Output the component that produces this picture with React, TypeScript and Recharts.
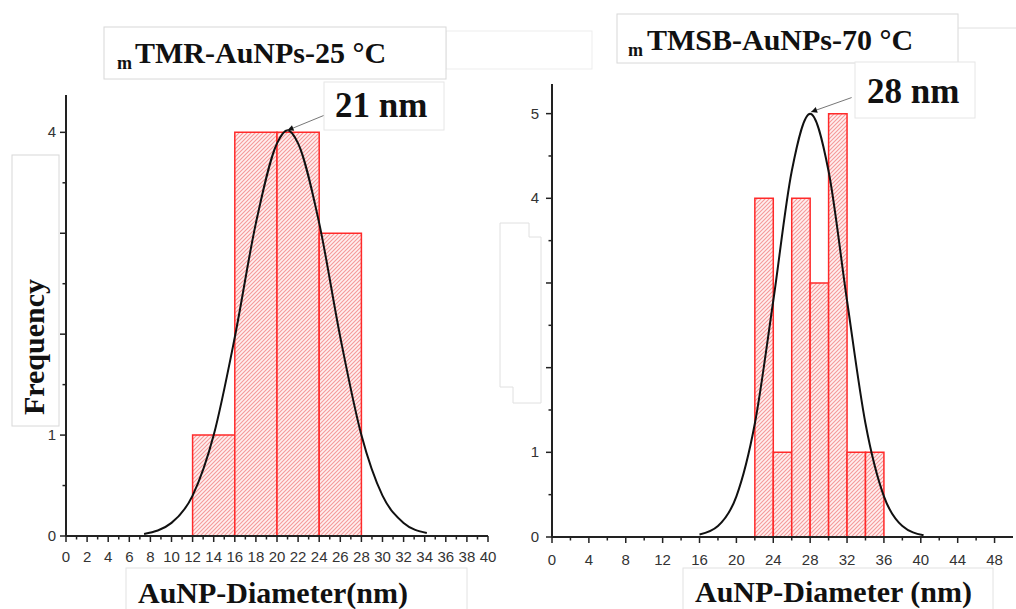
import React from 'react'
import { ComposedChart, Line, XAxis, YAxis, ReferenceArea, ReferenceLine } from 'recharts'

// histogram of mTMR-AuNPs-25 °C
const tmrBinStart = [12, 16, 20, 24]
const tmrBinEnd = [16, 20, 24, 28]
const tmrCounts = [1, 4, 4, 3]
// fitted curve
const tmrFitX = [7.4, 10, 12, 14, 16, 18, 20, 21, 22, 24, 26, 28, 30, 32, 34.2]
const tmrFitY = [0.02, 0.13, 0.4, 1.0, 1.97, 3.1, 3.89, 4.02, 3.89, 3.1, 1.97, 1.0, 0.4, 0.13, 0.03]
const tmrXTicks = [0, 1, 2, 3, 4, 5, 6, 7, 8, 9, 10, 11, 12, 13, 14, 15, 16, 17, 18, 19, 20,
  21, 22, 23, 24, 25, 26, 27, 28, 29, 30, 31, 32, 33, 34, 35, 36, 37, 38, 39, 40]
const tmrXLabels = [0, 2, 4, 6, 8, 10, 12, 14, 16, 18, 20, 22, 24, 26, 28, 30, 32, 34, 36, 38, 40]
const tmrYTicks = [0, 0.5, 1, 1.5, 2, 2.5, 3, 3.5, 4]
const tmrYLabels = [0, 1, 4]

// histogram of mTMSB-AuNPs-70 °C
const tmsbBinStart = [22, 24, 26, 28, 30, 32, 34]
const tmsbBinEnd = [24, 26, 28, 30, 32, 34, 36]
const tmsbCounts = [4, 1, 4, 3, 5, 1, 1]
const tmsbFitX = [16, 18, 20, 22, 24, 26, 28, 30, 32, 34, 36, 38, 40.3]
const tmsbFitY = [0.03, 0.13, 0.48, 1.34, 2.79, 4.32, 5.0, 4.32, 2.79, 1.34, 0.48, 0.13, 0.02]
const tmsbXTicks = [0, 2, 4, 6, 8, 10, 12, 14, 16, 18, 20, 22, 24, 26, 28, 30, 32, 34, 36, 38,
  40, 42, 44, 46, 48]
const tmsbXLabels = [0, 4, 8, 12, 16, 20, 24, 28, 32, 36, 40, 44, 48]
const tmsbYTicks = [0, 0.5, 1, 1.5, 2, 2.5, 3, 3.5, 4, 4.5, 5]
const tmsbYLabels = [0, 1, 4, 5]

const tmrFit = tmrFitX.map((x, i) => ({ x, y: tmrFitY[i] }))
const tmsbFit = tmsbFitX.map((x, i) => ({ x, y: tmsbFitY[i] }))

const tickFont = "'Liberation Sans Narrow', 'Liberation Sans', Arial, sans-serif"
const serif = "'Liberation Serif', 'Times New Roman', serif"
const axisStyle = { stroke: '#222', strokeWidth: 2 }

const makeXTick = (labels: number[], gap: number) => (props: any) => {
  const { x, y, payload } = props
  const major = labels.includes(payload.value)
  return (
    <g>
      <line x1={x} x2={x} y1={y} y2={y + (major ? 6 : 3.5)} stroke="#222" strokeWidth={1.5} />
      {major && (
        <text x={x} y={y + gap} textAnchor="middle" fontSize={15} fill="#333" fontFamily={tickFont}>
          {payload.value}
        </text>
      )}
    </g>
  )
}

const makeYTick = (labels: number[], gap: number) => (props: any) => {
  const { x, y, payload } = props
  const major = Number.isInteger(payload.value)
  return (
    <g>
      <line x1={x} x2={x - (major ? 6 : 3.5)} y1={y} y2={y} stroke="#222" strokeWidth={1.5} />
      {labels.includes(payload.value) && (
        <text x={x - gap} y={y + 5} textAnchor="end" fontSize={15} fill="#333" fontFamily={tickFont}>
          {payload.value}
        </text>
      )}
    </g>
  )
}

const arrowShape = (p: any) => (
  <line x1={p.x1} y1={p.y1} x2={p.x2} y2={p.y2} stroke="#777" strokeWidth={1} markerStart="url(#arrowHead)" />
)

function Defs() {
  return (
    <svg width={0} height={0} style={{ position: 'absolute' }}>
      <defs>
        <pattern id="hatch" patternUnits="userSpaceOnUse" width={4} height={4}>
          <rect width={4} height={4} fill="#fff0f0" />
          <path d="M-1,1 l2,-2 M0,4 l4,-4 M3,5 l2,-2" stroke="#f59a9a" strokeWidth={1.1} />
        </pattern>
        <marker id="arrowHead" viewBox="0 0 10 10" refX={10} refY={5} markerWidth={8} markerHeight={6}
          orient="auto-start-reverse">
          <path d="M0,0 L10,5 L0,10 z" fill="#111" />
        </marker>
      </defs>
    </svg>
  )
}

function Box({ x, y, w, h, c = '#d8d8d8' }: { x: number; y: number; w: number; h: number; c?: string }) {
  return <rect x={x} y={y} width={w} height={h} fill="#fff" stroke={c} strokeWidth={1} />
}

export default function App() {
  return (
    <div style={{ position: 'absolute', left: 0, top: 0, width: 1016, height: 609, background: '#fff', overflow: 'hidden' }}>
      <Defs />
      <div style={{ position: 'absolute', left: 0, top: 0 }}>
        <ComposedChart width={500} height={609} data={tmrFit} margin={{ top: 95, right: 12, bottom: 43, left: 6 }}>
          <XAxis dataKey="x" type="number" domain={[0, 40]} ticks={tmrXTicks} interval={0} height={30}
            axisLine={axisStyle} tickLine={false} tickSize={0} tickMargin={0} tick={makeXTick(tmrXLabels, 26)} />
          <YAxis type="number" domain={[0, 4.37]} ticks={tmrYTicks} interval={0} width={60}
            axisLine={axisStyle} tickLine={false} tickSize={0} tickMargin={0} tick={makeYTick(tmrYLabels, 10)} />
          {tmrCounts.map((c, i) => (
            <ReferenceArea key={i} x1={tmrBinStart[i]} x2={tmrBinEnd[i]} y1={0} y2={c} fill="url(#hatch)"
              fillOpacity={1} stroke="#ff2a2a" strokeWidth={1.5} ifOverflow="visible" />
          ))}
          <Line dataKey="y" type="monotone" stroke="#111" strokeWidth={2} dot={false} isAnimationActive={false} />
          <ReferenceLine segment={[{ x: 21, y: 4.02 }, { x: 24.5, y: 4.17 }]} ifOverflow="visible" shape={arrowShape} />
        </ComposedChart>
      </div>
      <div style={{ position: 'absolute', left: 500, top: 0 }}>
        <ComposedChart width={516} height={609} data={tmsbFit} margin={{ top: 84, right: 3, bottom: 42, left: 6 }}>
          <XAxis dataKey="x" type="number" domain={[0, 50]} ticks={tmsbXTicks} interval={0} height={30}
            axisLine={axisStyle} tickLine={false} tickSize={0} tickMargin={0} tick={makeXTick(tmsbXLabels, 28)} />
          <YAxis type="number" domain={[0, 5.35]} ticks={tmsbYTicks} interval={0} width={46}
            axisLine={axisStyle} tickLine={false} tickSize={0} tickMargin={0} tick={makeYTick(tmsbYLabels, 13)} />
          {tmsbCounts.map((c, i) => (
            <ReferenceArea key={i} x1={tmsbBinStart[i]} x2={tmsbBinEnd[i]} y1={0} y2={c} fill="url(#hatch)"
              fillOpacity={1} stroke="#ff2a2a" strokeWidth={1.5} ifOverflow="visible" />
          ))}
          <Line dataKey="y" type="monotone" stroke="#111" strokeWidth={2} dot={false} isAnimationActive={false} />
          <ReferenceLine segment={[{ x: 28.1, y: 5.02 }, { x: 32.5, y: 5.19 }]} ifOverflow="visible" shape={arrowShape} />
        </ComposedChart>
      </div>
      <svg width={1016} height={609} style={{ position: 'absolute', left: 0, top: 0, pointerEvents: 'none' }}>
        {/* left panel labels */}
        <Box x={446} y={31} w={146} h={38} c="#ededed" />
        <Box x={104} y={27} w={342} h={52} />
        <text fontFamily={serif} fontWeight="bold" fill="#111">
          <tspan x={117} y={69} fontSize={18}>m</tspan>
          <tspan x={135} y={63} fontSize={30}>TMR-AuNPs-25 °C</tspan>
        </text>
        <Box x={324} y={82} w={120} h={48} c="#e6e6e6" />
        <text x={335} y={117} fontFamily={serif} fontWeight="bold" fontSize={35} fill="#111">21 nm</text>
        <Box x={12} y={155} w={47} h={271} />
        <text transform="translate(44,347) rotate(-90)" textAnchor="middle" fontFamily={serif}
          fontWeight="bold" fontSize={30} fill="#111">Frequency</text>
        <Box x={126} y={568} w={341} h={50} c="#e2e2e2" />
        <text x={138} y={603} fontFamily={serif} fontWeight="bold" fontSize={30} fill="#111">AuNP-Diameter(nm)</text>

        {/* right panel labels */}
        <Box x={617} y={14} w={341} h={49} />
        <line x1={958} y1={28} x2={1016} y2={28} stroke="#e0e0e0" />
        <text fontFamily={serif} fontWeight="bold" fill="#111">
          <tspan x={628} y={56} fontSize={18}>m</tspan>
          <tspan x={647} y={50} fontSize={30}>TMSB-AuNPs-70 °C</tspan>
        </text>
        <Box x={855} y={62} w={120} h={56} c="#e6e6e6" />
        <text x={867} y={103} fontFamily={serif} fontWeight="bold" fontSize={35} fill="#111">28 nm</text>
        <polygon points="500,223 529,223 529,237 541,237 541,403 513,403 513,387 500,387"
          fill="#fff" stroke="#e0e0e0" />
        <Box x={683} y={568} w={310} h={50} c="#e2e2e2" />
        <text x={695} y={602} fontFamily={serif} fontWeight="bold" fontSize={30} fill="#111">AuNP-Diameter (nm)</text>
      </svg>
    </div>
  )
}
